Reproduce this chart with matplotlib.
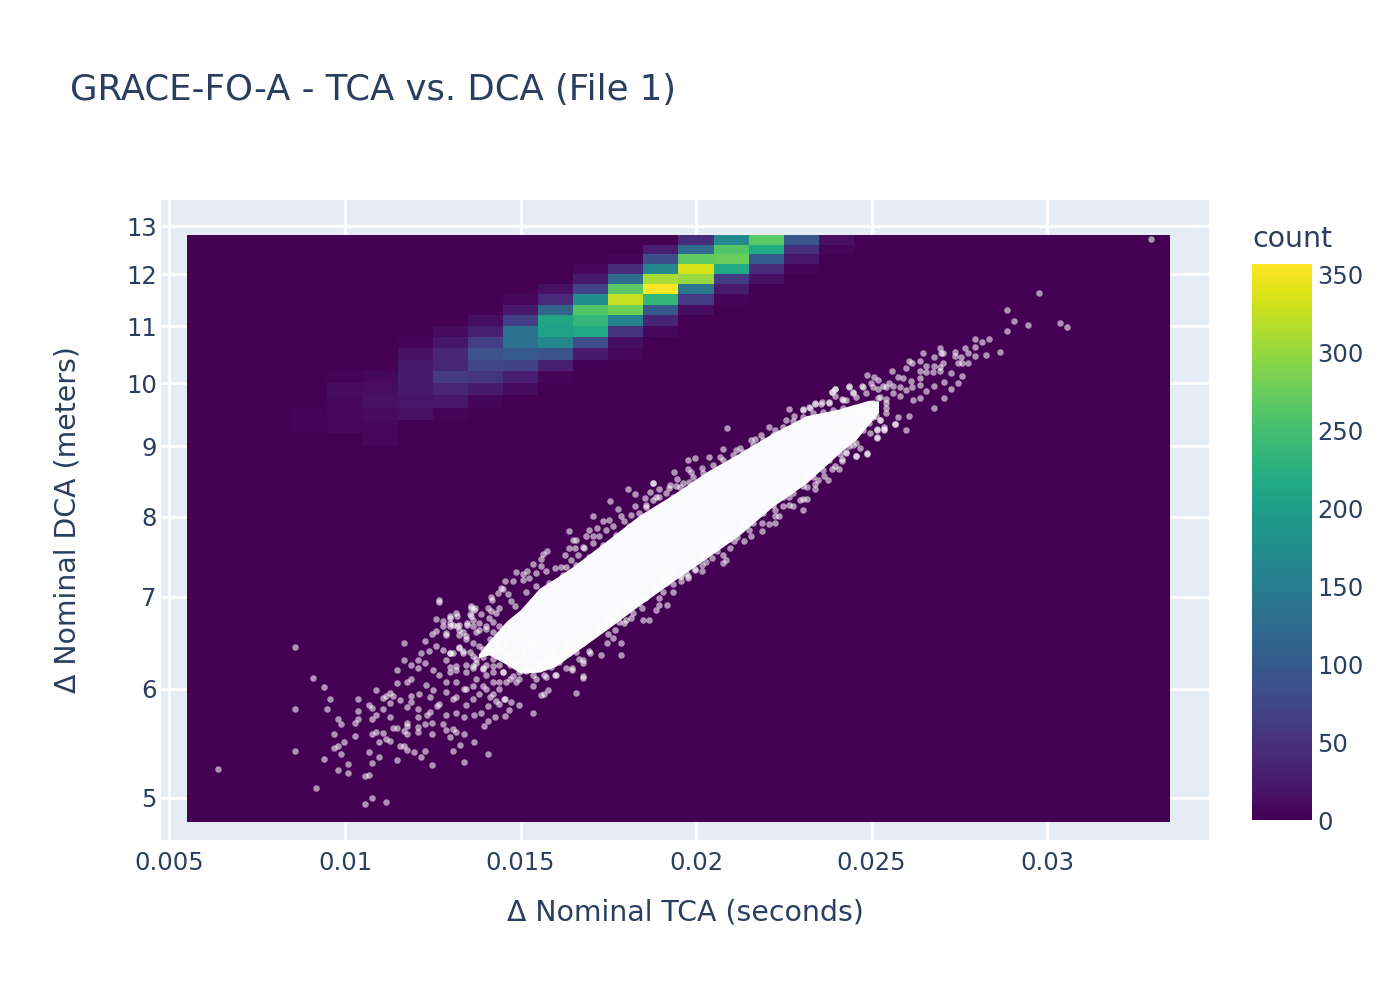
import numpy as np
import matplotlib
matplotlib.use("Agg")
import matplotlib.pyplot as plt

title = "GRACE-FO-A - TCA vs. DCA (File 1)"
x_label = "Δ Nominal TCA (seconds)"
y_label = "Δ Nominal DCA (meters)"

x_ticks = [0.005, 0.01, 0.015, 0.02, 0.025, 0.03]
x_tick_labels = ["0.005", "0.01", "0.015", "0.02", "0.025", "0.03"]
y_ticks = [5, 6, 7, 8, 9, 10, 11, 12, 13]
cbar_ticks = [0, 50, 100, 150, 200, 250, 300, 350]
count_max = 357

# histogram bins
tca_start, tca_stop, tca_bin = 0.0055, 0.0335, 0.001
dca_start, dca_stop, dca_bin = 4.8, 12.8, 0.2

# counts read per row from the top (12.6-12.8) down: (first column, values)
hist_rows = [
    (14, [45, 170, 265, 95, 15]),
    (13, [30, 125, 260, 215, 50, 3]),
    (12, [5, 85, 270, 275, 100, 20]),
    (11, [8, 45, 165, 335, 215, 45, 3]),
    (11, [25, 125, 310, 300, 60, 15]),
    (10, [15, 70, 265, 355, 140, 25]),
    (9, [8, 40, 175, 325, 235, 60, 5]),
    (9, [25, 115, 260, 280, 100, 12]),
    (8, [12, 65, 210, 235, 160, 35]),
    (7, [10, 30, 135, 205, 215, 55, 8]),
    (6, [3, 20, 65, 135, 165, 85, 12]),
    (6, [15, 35, 90, 100, 90, 25, 6]),
    (6, [25, 38, 75, 70, 30, 2]),
    (4, [3, 8, 25, 60, 55, 30, 3]),
    (4, [10, 12, 25, 35, 25, 10]),
    (4, [8, 15, 20, 22, 5]),
    (3, [3, 8, 10, 14, 3]),
    (3, [3, 6, 8]),
    (5, [6]),
]

# scatter points, (TCA in 1e-4 s, DCA in m)
left_tail = [
    (63.8, 5.25), (85.8, 6.43), (85.8, 5.80), (85.8, 5.41), (90.8, 6.11), (93.9, 6.02), (95.8, 5.90),
    (94.8, 5.80), (91.8, 5.08), (97.9, 5.71), (98.8, 5.66), (96.8, 5.56), (93.9, 5.34), (97.9, 5.24),
    (100.8, 5.21), (100.8, 5.29), (98.8, 5.38), (96.8, 5.44), (97.9, 5.45), (99.8, 5.49), (102.8, 5.55),
    (102.8, 5.67), (103.8, 5.71), (103.8, 5.78), (103.8, 5.90), (106.8, 5.84), (107.7, 5.81), (108.8, 5.99),
    (107.7, 5.71), (108.8, 5.74), (110.8, 5.80), (110.8, 5.91), (111.7, 5.93), (112.7, 5.96), (113.8, 5.93),
    (112.8, 5.86), (112.8, 5.72), (115.7, 5.89), (116.8, 6.48), (116.8, 6.30), (114.8, 6.19), (114.8, 6.06),
    (117.8, 6.07), (118.8, 6.10), (118.8, 5.93), (117.7, 5.82), (120.8, 5.80), (120.8, 5.72), (118.8, 5.87),
    (107.7, 5.56), (108.8, 5.58), (110.8, 5.57), (111.7, 5.52), (112.8, 5.50), (109.8, 5.49), (106.8, 5.40),
    (109.8, 5.35), (107.7, 5.30), (105.8, 5.19), (106.8, 5.20), (107.7, 5.00), (105.8, 4.95), (111.7, 4.97),
    (114.8, 5.33), (115.7, 5.45), (116.8, 5.45), (117.8, 5.42), (119.8, 5.40), (121.7, 5.35), (122.7, 5.41),
    (124.7, 5.28), (130.7, 5.41), (132.8, 5.46), (133.8, 5.31), (136.7, 5.49), (140.7, 5.38), (133.8, 5.56),
    (113.7, 5.62), (114.8, 5.62), (116.8, 5.59), (117.8, 5.56), (117.8, 5.67), (117.8, 5.64), (120.8, 5.63),
    (120.8, 5.58), (122.7, 5.66), (124.7, 5.67), (124.7, 5.56), (126.7, 6.94), (135.8, 6.87), (136.7, 6.85),
    (141.8, 6.96), (131.8, 6.78), (129.8, 6.75), (135.8, 6.78), (125.8, 6.74), (127.8, 6.72), (127.8, 6.67),
    (129.8, 6.66), (131.8, 6.66), (134.8, 6.68), (124.7, 6.58), (125.8, 6.61), (122.7, 6.50), (128.7, 6.56),
    (125.8, 6.45), (123.8, 6.39), (121.7, 6.37), (120.8, 6.30), (118.8, 6.24), (120.8, 6.21), (122.7, 6.27),
    (127.8, 6.40), (129.8, 6.37), (153.7, 5.76), (149.7, 5.84), (164.7, 6.19), (167.8, 6.11), (165.7, 5.96),
    (167.8, 6.27), (155.7, 5.94), (156.7, 5.95), (157.7, 5.99), (146.6, 5.79), (145.6, 5.73), (142.8, 5.72),
    (139.7, 5.64), (140.7, 5.69), (140.7, 5.83), (138.7, 5.76), (136.7, 5.74), (133.8, 5.72), (131.7, 5.76),
    (128.8, 5.74), (127.9, 5.66), (128.7, 5.60), (130.7, 5.61), (131.7, 5.58), (129.8, 5.54), (124.1, 5.77),
    (123.5, 5.74), (126.2, 5.83), (126.7, 5.85), (124.1, 5.92), (130.7, 5.90), (133.9, 6.00), (134.5, 6.00),
    (145.7, 5.90), (147.3, 5.87), (143.1, 5.88), (144.0, 5.85), (141.2, 5.92), (131.7, 6.19), (129.8, 6.22),
    (125.0, 6.19), (126.9, 6.14), (128.8, 6.07), (131.7, 6.07), (123.1, 6.04), (121.2, 5.95), (125.0, 5.99),
    (128.8, 5.97), (131.7, 5.92), (134.5, 5.84), (136.4, 5.90), (138.3, 5.95), (140.2, 6.00), (142.1, 5.95),
    (144.0, 6.00), (145.9, 6.07), (148.8, 6.07), (149.7, 6.17), (137.4, 6.10), (134.5, 6.24), (137.4, 6.27),
    (140.2, 6.24), (142.1, 6.17), (144.0, 6.24), (146.9, 6.24), (148.8, 6.27), (132.6, 6.42), (135.5, 6.38),
    (138.3, 6.45), (141.2, 6.42), (144.0, 6.42), (137.4, 6.60), (140.2, 6.63), (142.1, 6.71), (144.0, 6.56),
    (132.6, 6.56), (134.5, 6.52),
    (130.7, 6.68), (132.6, 6.62), (134.5, 6.55), (136.4, 6.48), (138.3, 6.62), (140.2, 6.66), (142.1, 6.60),
    (144.0, 6.55), (145.9, 6.48), (132.6, 6.44), (130.7, 6.37), (128.8, 6.30), (133.5, 6.39), (136.4, 6.34),
    (139.2, 6.41), (141.1, 6.44), (144.0, 6.41), (146.8, 6.34), (148.7, 6.23), (150.6, 6.34), (136.4, 6.23),
    (139.2, 6.20), (142.1, 6.23), (144.9, 6.17), (147.8, 6.13), (131.7, 6.23), (129.8, 6.17), (134.5, 6.17),
    (129.8, 6.37), (133.6, 6.37), (139.3, 6.33), (137.4, 6.31), (145.4, 5.90), (153.5, 6.14), (149.7, 6.10),
    (151.6, 6.21), (155.4, 6.27), (159.2, 6.31), (144.0, 6.07), (146.9, 6.10), (147.8, 6.27), (150.7, 6.38),
    (153.5, 6.45), (156.4, 6.48), (142.1, 6.31), (140.2, 6.14), (139.3, 6.03), (136.4, 6.03), (142.1, 6.07),
    (149.7, 6.52), (146.9, 6.60), (144.0, 6.67), (141.2, 6.52), (136.4, 6.21), (139.3, 6.21), (145.0, 6.17),
    (145.9, 6.35), (143.1, 6.48), (154.4, 6.10), (157.3, 6.12), (160.2, 6.14), (163.0, 6.21), (166.8, 6.31),
    (169.7, 6.37), (153.5, 6.03),
]
upper_edge = [
    (180.7, 8.38), (182.7, 8.31), (187.7, 8.47), (175.6, 8.21), (177.7, 8.11), (182.7, 8.15), (170.7, 8.01),
    (178.7, 8.01), (163.7, 7.81), (169.6, 7.82), (171.7, 7.85), (173.6, 7.94), (175.3, 7.96), (164.9, 7.70),
    (165.8, 7.70), (168.7, 7.74), (170.6, 7.74), (163.7, 7.59), (165.6, 7.59), (167.7, 7.61), (157.5, 7.55),
    (156.5, 7.52), (155.7, 7.45), (153.7, 7.39), (155.7, 7.37), (162.8, 7.50), (148.7, 7.29), (151.8, 7.30),
    (150.6, 7.27), (145.7, 7.19), (147.8, 7.19), (141.6, 6.99), (144.5, 7.10), (143.5, 7.04), (135.9, 6.89),
    (136.9, 6.87), (140.7, 6.87), (135.7, 6.80), (138.8, 6.80), (141.6, 6.83), (131.7, 6.81), (129.8, 6.78),
    (126.9, 6.96), (129.8, 6.70), (132.6, 6.68), (134.7, 6.70), (128.8, 6.59), (133.5, 6.60), (136.4, 6.66),
    (187.7, 8.47), (208.7, 9.28), (197.7, 8.79), (199.7, 8.82), (203.7, 8.84), (193.7, 8.62), (194.6, 8.52),
    (197.7, 8.66), (198.6, 8.62), (201.7, 8.68), (207.6, 8.96), (206.7, 8.84), (211.4, 8.95), (212.4, 8.97),
    (215.7, 9.10), (216.7, 9.11), (220.7, 9.29), (218.6, 9.17), (222.6, 9.25), (226.6, 9.58), (225.7, 9.41),
    (227.8, 9.47), (230.6, 9.57), (233.8, 9.67), (232.3, 9.61), (235.7, 9.66), (237.8, 9.69), (238.7, 9.85),
    (239.6, 9.90), (241.6, 9.74), (243.7, 9.95), (244.7, 9.85), (247.3, 9.95), (189.6, 8.38), (186.8, 8.34),
    (185.6, 8.26), (192.6, 8.44),
    (145.0, 7.09), (146.4, 7.03), (147.3, 6.95), (150.6, 7.20), (152.5, 7.22), (154.4, 7.28), (157.3, 7.30),
    (159.7, 7.34), (161.6, 7.36), (163.0, 7.35), (164.4, 7.44), (166.3, 7.50), (168.2, 7.59), (170.6, 7.65),
    (172.5, 7.74), (174.4, 7.83), (176.3, 7.87), (179.6, 7.94), (181.5, 8.02), (183.9, 8.05), (185.8, 8.16),
    (187.7, 8.23), (189.6, 8.27), (192.4, 8.39), (195.3, 8.41), (198.1, 8.48), (193.4, 8.27), (188.6, 8.11),
    (184.8, 7.98), (181.0, 7.87), (177.2, 7.76), (173.4, 7.63), (169.6, 7.48), (165.8, 7.38), (162.0, 7.26),
    (158.2, 7.16), (154.4, 7.12), (151.6, 7.05), (148.3, 6.89), (144.0, 6.87), (143.0, 6.81), (141.1, 6.75),
    (138.3, 6.70), (136.4, 6.73),
    (185.8, 8.13), (188.6, 8.27), (191.5, 8.32), (194.3, 8.42), (196.2, 8.47), (199.1, 8.55), (201.9, 8.60),
    (204.8, 8.72), (207.6, 8.80), (210.5, 8.87), (213.3, 8.92), (216.2, 9.02), (219.0, 9.09), (221.9, 9.17),
    (224.7, 9.30), (227.6, 9.38), (230.4, 9.45), (233.3, 9.51), (236.1, 9.53), (239.0, 9.56), (241.8, 9.59),
]
lower_edge = [
    (167.7, 6.13), (164.7, 6.21), (167.7, 6.30), (172.8, 6.35), (178.7, 6.35), (178.7, 6.48), (174.7, 6.48),
    (176.3, 6.53), (176.8, 6.62), (174.9, 6.58), (169.6, 6.39), (165.8, 6.38), (163.0, 6.42), (161.1, 6.28),
    (158.7, 6.22), (159.7, 6.14), (156.8, 6.14), (184.8, 6.73), (186.7, 6.73), (179.6, 6.70), (181.5, 6.75),
    (188.6, 6.84), (191.7, 6.90), (189.6, 6.98), (189.6, 6.90), (184.6, 6.87), (185.6, 6.98), (193.4, 7.06),
    (193.4, 7.15), (195.8, 7.18), (197.7, 7.22), (199.7, 7.33), (192.9, 7.22), (190.5, 7.05), (183.4, 6.96),
    (248.7, 8.90), (245.6, 8.85), (251.6, 9.12), (256.6, 9.34), (253.7, 9.26), (251.5, 9.26), (242.8, 8.92),
    (241.6, 8.81), (240.7, 8.66), (239.7, 8.71), (238.7, 8.66), (237.7, 8.50), (236.6, 8.56), (234.7, 8.51),
    (233.8, 8.38), (233.8, 8.45), (231.7, 8.41), (231.7, 8.24), (230.4, 8.24), (229.5, 8.23), (230.6, 8.09),
    (227.6, 8.14), (226.6, 8.27), (226.6, 8.16), (224.7, 8.15), (222.6, 8.09), (223.6, 8.01), (222.6, 8.01),
    (222.6, 7.91), (220.7, 7.90), (218.7, 7.81), (218.7, 7.92), (215.7, 7.75), (213.7, 7.68), (211.6, 7.73),
    (210.7, 7.68), (208.6, 7.44), (207.6, 7.41), (207.6, 7.50), (209.7, 7.59), (205.9, 7.56), (204.6, 7.47),
    (201.8, 7.38), (201.7, 7.31), (199.7, 7.32), (197.7, 7.24), (195.8, 7.24), (193.4, 7.24), (191.3, 7.24),
    (215.2, 7.83),
    (157.3, 6.30), (159.2, 6.37), (162.0, 6.39), (163.9, 6.37), (165.8, 6.44), (167.7, 6.48), (170.1, 6.57),
    (172.5, 6.66), (174.4, 6.70), (176.3, 6.73), (178.2, 6.71), (180.1, 6.73), (182.0, 6.81), (183.9, 6.92),
    (185.8, 7.00), (188.6, 7.09), (191.5, 7.16), (193.4, 7.24), (195.3, 7.24), (197.2, 7.28), (199.1, 7.40),
    (160.1, 6.30), (163.0, 6.46), (168.7, 6.55), (171.5, 6.62), (175.3, 6.77), (177.2, 6.81), (181.0, 6.89),
    (184.8, 7.00), (187.7, 7.12), (190.5, 7.20), (155.4, 6.23), (153.5, 6.20), (151.6, 6.18),
    (189.6, 7.24), (193.4, 7.30), (196.2, 7.36), (199.1, 7.45), (201.9, 7.51), (204.8, 7.58), (207.6, 7.67),
    (209.5, 7.71), (212.4, 7.83), (216.2, 7.91), (219.0, 8.05), (221.9, 8.16), (224.7, 8.27), (227.6, 8.32),
    (230.4, 8.42), (233.3, 8.55), (236.1, 8.65), (238.0, 8.80), (240.9, 8.89), (243.7, 9.00), (245.6, 9.05),
    (202.9, 7.42), (208.6, 7.75), (213.3, 7.91), (217.1, 8.03), (225.7, 8.37), (231.4, 8.55),
]
right_tail = [
    (329.6, 12.73), (297.6, 11.63), (288.7, 11.30), (290.7, 11.09), (294.6, 11.02), (303.7, 11.05), (305.7, 10.99),
    (288.7, 10.91), (279.6, 10.77), (281.6, 10.72), (283.6, 10.76), (279.6, 10.62), (276.7, 10.60), (277.6, 10.51),
    (279.6, 10.47), (282.7, 10.49), (286.7, 10.53), (269.6, 10.60), (264.6, 10.52), (267.7, 10.45), (270.5, 10.52),
    (269.8, 10.52), (273.7, 10.54), (273.7, 10.46), (275.6, 10.45), (274.6, 10.34), (275.7, 10.34), (277.6, 10.35),
    (270.5, 10.35), (263.7, 10.38), (260.6, 10.38), (261.6, 10.34), (265.6, 10.29), (267.7, 10.29), (269.4, 10.28),
    (259.7, 10.26), (255.7, 10.21), (263.7, 10.20), (265.6, 10.19), (267.5, 10.19), (269.6, 10.20), (272.7, 10.17),
    (275.7, 10.12), (270.6, 10.02), (274.6, 10.01), (272.7, 9.90), (270.6, 9.75), (267.7, 9.60), (267.7, 9.95),
    (265.6, 9.87), (263.7, 9.76), (260.6, 9.46), (259.7, 9.24), (256.7, 9.34), (257.6, 9.45), (248.7, 10.13),
    (250.6, 10.10), (251.8, 10.05), (257.6, 10.10), (261.3, 10.04), (255.1, 10.01), (258.0, 9.93), (261.6, 9.93),
    (263.7, 9.97), (253.2, 9.96), (249.9, 10.01), (247.5, 9.93), (243.7, 9.94), (239.7, 9.90), (238.7, 9.86),
    (239.7, 9.79), (241.8, 9.73), (244.7, 9.84), (230.6, 9.56), (233.8, 9.66), (235.8, 9.69), (237.8, 9.68),
    (232.4, 9.60), (248.7, 8.89), (245.6, 8.85), (242.6, 8.90), (241.7, 8.78), (251.6, 9.14), (253.7, 9.24),
    (249.6, 9.20), (251.6, 9.25), (253.7, 9.30), (251.3, 9.46), (252.3, 9.40), (246.6, 8.97), (244.7, 9.02),
    (251.8, 9.90), (251.8, 9.76), (254.2, 9.60), (254.0, 9.74), (256.1, 9.95), (258.0, 9.79), (259.9, 9.89),
    (261.8, 9.73), (263.7, 10.09), (258.9, 10.08),
    (242.8, 9.72), (245.6, 9.77), (248.5, 9.83), (250.4, 9.67), (252.3, 9.77), (254.2, 9.67), (256.1, 9.83),
    (254.2, 9.94), (250.4, 9.94), (248.5, 9.51), (250.4, 9.45), (252.3, 9.40), (246.6, 9.56), (244.7, 9.35),
    (242.8, 9.25), (245.6, 9.19), (247.5, 9.25), (249.4, 9.35), (254.2, 9.51),
]

# saturated white core of the cloud, top and bottom as read per TCA
core_tca = [138, 141, 146, 150, 155.4, 160, 164.9, 174.4, 183.9, 193.4, 202.9, 212.4, 221.9, 231.4, 240.9, 245.6, 249.4, 252]
core_top = [6.36, 6.50, 6.72, 6.85, 7.10, 7.22, 7.36, 7.68, 8.02, 8.30, 8.62, 8.90, 9.20, 9.47, 9.58, 9.66, 9.72, 9.70]
core_bottom = [6.32, 6.35, 6.25, 6.16, 6.17, 6.23, 6.36, 6.62, 6.90, 7.18, 7.46, 7.76, 8.14, 8.46, 8.90, 9.10, 9.35, 9.52]

text_color = "#2a3f5f"
plt.rcParams["font.family"] = "DejaVu Sans"
plt.rcParams["text.color"] = text_color

fig = plt.figure(figsize=(14, 10), dpi=100)
W, H = 1400, 1000
ax = fig.add_axes([161 / W, 1 - 840 / H, (1209 - 161) / W, (840 - 200) / H])
ax.set_facecolor("#E5ECF6")
ax.set_xlim(0.004758, 0.034615)
ax.set_yscale("log")
ax.set_ylim(4.661, 13.58)

ax.set_xticks(x_ticks)
ax.set_xticklabels(x_tick_labels)
ax.set_yticks(y_ticks)
ax.set_yticklabels([str(v) for v in y_ticks])
ax.minorticks_off()
ax.tick_params(length=0, labelsize=17.5, labelcolor=text_color)
ax.tick_params(axis="x", pad=8)
ax.tick_params(axis="y", pad=3)
ax.grid(True, color="white", linewidth=2)
ax.set_axisbelow(True)
for s in ax.spines.values():
    s.set_visible(False)

# 2d histogram
tca_edges = tca_start + tca_bin * np.arange(29)
dca_edges = dca_stop - dca_bin * np.arange(41)
counts = np.zeros((40, 28))
for r, (first, values) in enumerate(hist_rows):
    counts[r, first:first + len(values)] = values
mesh = ax.pcolormesh(tca_edges, dca_edges, counts, cmap="viridis", vmin=0, vmax=count_max,
                     shading="flat", antialiased=False, zorder=2)

# scatter on top
ax.fill_between(np.array(core_tca) * 1e-4, core_bottom, core_top, color="white", alpha=0.98, linewidth=0, zorder=3)
points = np.array(left_tail + upper_edge + lower_edge + right_tail)
ax.scatter(points[:, 0] * 1e-4, points[:, 1], s=22, color="white", alpha=0.57, linewidths=0, zorder=4)

# colorbar
cax = fig.add_axes([1252 / W, 1 - 820 / H, 60 / W, (820 - 264) / H])
cbar = fig.colorbar(mesh, cax=cax)
cbar.set_ticks(cbar_ticks)
cbar.outline.set_visible(False)
cbar.ax.tick_params(length=0, labelsize=17.5, labelcolor=text_color, pad=4)

fig.text(70 / W, 1 - 100 / H, title, fontsize=25.6, color=text_color, ha="left", va="baseline")
fig.text(685 / W, 1 - 913 / H, x_label, fontsize=20.4, color=text_color, ha="center", va="center")
fig.text(68 / W, 1 - 520 / H, y_label, fontsize=20.4, color=text_color, ha="center", va="center", rotation=90)
fig.text(1252 / W, 1 - 239 / H, "count", fontsize=20.4, color=text_color, ha="left", va="center")

fig.savefig("out.png", dpi=100)
plt.close(fig)
